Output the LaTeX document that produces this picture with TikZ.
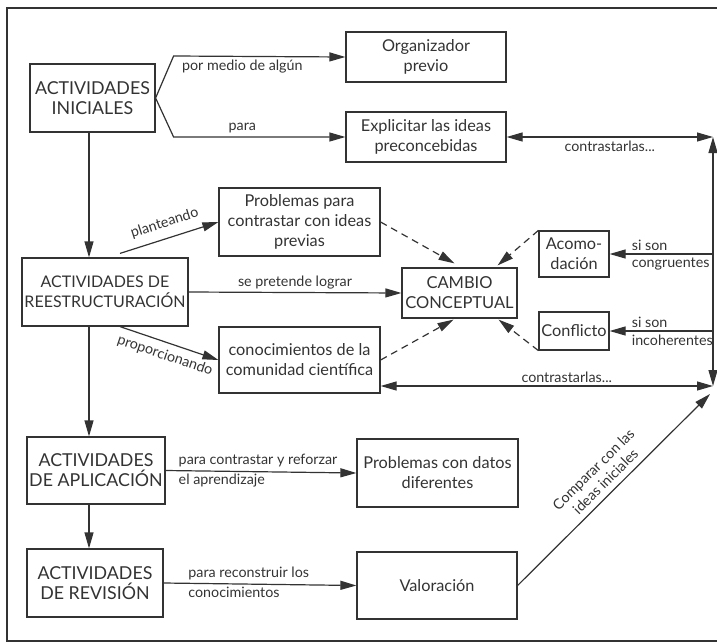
\documentclass[tikz,border=0pt]{standalone}
\usepackage{fontspec}
\setmainfont{Lato}
\usetikzlibrary{arrows.meta}

\tikzset{
  caja/.style={draw, align=center, inner sep=2pt, font=\fontsize{16.3}{20}\selectfont},
  mayus/.style={caja, font=\fontsize{17.8}{20}\selectfont},
  etiq/.style={font=\fontsize{14.3}{17}\selectfont, inner sep=3pt},
  guion/.style={dash pattern=on 7pt off 5pt},
}

\begin{document}
\begin{tikzpicture}[x=1pt, y=-1pt, color=black!80, line width=1.2pt,
    >={Triangle[length=16pt,width=9pt]}]
  \useasboundingbox (0,0) rectangle (717,643);
  % marco
  \draw (717,8) -- (7,8) -- (7,641) -- (717,641);

  % cajas
  \node [mayus, minimum width=125pt, minimum height=68pt] (ai) at (92.5,98) {ACTIVIDADES\\INICIALES};
  \node [caja, minimum width=160pt, minimum height=50pt] (org) at (426,57) {Organizador\\previo};
  \node [caja, minimum width=160pt, minimum height=50pt] (exp) at (426,137) {Explicitar las ideas\\preconcebidas};
  \node [caja, minimum width=161pt, minimum height=68pt] (prob) at (299.5,222) {Problemas para\\contrastar con ideas\\previas};
  \node [mayus, font=\fontsize{16}{20}\selectfont, minimum width=166pt, minimum height=68pt, inner sep=0pt] (reest) at (105,292) {ACTIVIDADES DE\\REESTRUCTURACIÓN};
  \node [caja, minimum width=161pt, minimum height=66pt] (con) at (299.5,360) {conocimientos de la\\comunidad científica};
  \node [mayus, font=\fontsize{16.5}{20}\selectfont, minimum width=115pt, minimum height=50pt, inner sep=0pt] (cam) at (459.5,293) {CAMBIO\\CONCEPTUAL};
  \node [caja, minimum width=70pt, minimum height=46pt] (aco) at (574,254) {Acomo-\\dación};
  \node [caja, minimum width=70pt, minimum height=38pt] (conf) at (574,331) {Conflicto};
  \node [mayus, minimum width=138pt, minimum height=67pt] (apl) at (96,470.5) {ACTIVIDADES\\DE APLICACIÓN};
  \node [mayus, minimum width=136pt, minimum height=68pt] (rev) at (95,583) {ACTIVIDADES\\DE REVISIÓN};
  \node [caja, minimum width=161pt, minimum height=68pt] (pdat) at (437.5,473) {Problemas con datos\\diferentes};
  \node [caja, minimum width=160pt, minimum height=67pt] (val) at (437,585.5) {Valoración};

  \coordinate (spine) at (89,0);
  \coordinate (rt) at (713,137);
  \coordinate (rb) at (713,386);
  \coordinate (cmp) at (710,394);

  % actividades iniciales
  \draw [->] (ai.east) -- +(18,-42) -- node [etiq, below, pos=0.4] {por medio de algún} (org.west);
  \draw [->] (ai.east) -- +(18,39) -- node [etiq, above, pos=0.4] {para} (exp.west);
  \draw [<->] (exp.east) -- node [etiq, below] {contrastarlas...} (rt);
  \draw [<->] (rt) -- (rb);

  % reestructuracion
  \draw [->] ([xshift=15pt,yshift=4pt]reest.north) -- node [etiq, sloped, above=5pt] {planteando} (prob.west);
  \draw [->] ([xshift=15pt]reest.south) -- node [etiq, sloped, below=3pt] {proporcionando} (con.west);
  \draw [->] (reest.east) -- node [etiq, above] {se pretende lograr} (cam.west);
  \draw [<->] (con.east |- rb) -- node [etiq, above, pos=0.56] {contrastarlas...} (rb);

  % hacia el cambio conceptual
  \draw [->, guion] (prob.east) -- ([xshift=-5pt,yshift=4pt]cam.north);
  \draw [->, guion] (aco.north west) -- ([xshift=-20pt,yshift=2pt]cam.north east);
  \draw [->, guion] (con.east) -- ([xshift=-6pt,yshift=-1pt]cam.south);
  \draw [->, guion] (conf.south west) -- ([xshift=-19pt,yshift=-1pt]cam.south east);

  \draw [->] (aco.east -| rt) -- node [etiq, pos=0.82, above right] {si son}
    node [etiq, pos=0.82, below right] {congruentes} (aco.east);
  \draw [->] (conf.east -| rt) -- node [etiq, pos=0.82, above right] {si son}
    node [etiq, pos=0.82, below right] {incoherentes} (conf.east);

  % columna izquierda
  \draw [->] (ai.south -| spine) -- (reest.north -| spine);
  \draw [->] (reest.south -| spine) -- (apl.north -| spine);
  \draw [->] (apl.south -| spine) -- (rev.north -| spine);

  \draw [->] (apl.east) -- node [etiq, pos=0.05, above right] {para contrastar y reforzar}
    node [etiq, pos=0.05, below right] {el aprendizaje} (pdat.west);
  \draw [->] (rev.east) -- node [etiq, pos=0.11, above right] {para reconstruir los}
    node [etiq, pos=0.11, below right] {conocimientos} (val.west);

  \draw [->] (val.east) -- node [etiq, sloped, above=3pt, align=center] {Comparar con las\\ideas iniciales} (cmp);
\end{tikzpicture}
\end{document}
